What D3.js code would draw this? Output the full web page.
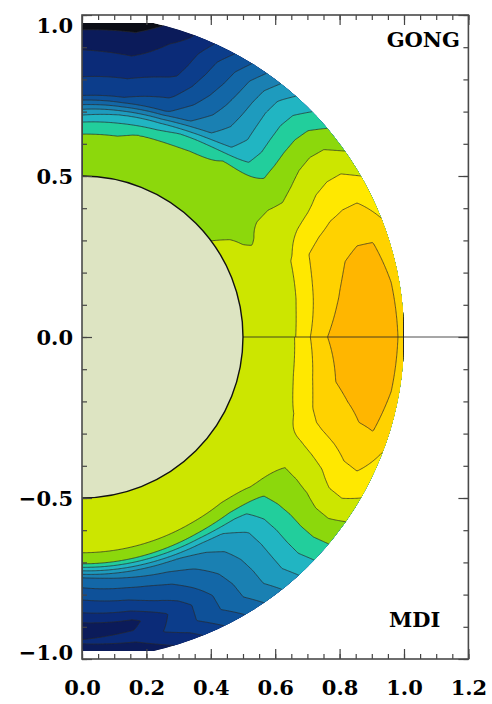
<!DOCTYPE html>
<html>
<head>
<meta charset="utf-8">
<title>Rotation rate GONG / MDI</title>
<script src="https://d3js.org/d3.v7.min.js"></script>
<style>
  body { margin: 0; background: #fff; }
  .tick text, .tag { font-family: "DejaVu Serif", serif; font-weight: bold; font-size: 21px; fill: #000; }
  .tick line { stroke: #444; stroke-width: 1.2; }
</style>
</head>
<body>
<div id="chart"></div>
<script>
// grid of the inversion: rows = latitude, columns = radius
var radii = [0.50, 0.55, 0.60, 0.65, 0.70, 0.75, 0.80, 0.85, 0.90, 0.95, 1.00];
var latitudes = [0, 10, 20, 30, 40, 50, 60, 70, 80, 90];

// northern half (GONG), rotation rate in nHz
var gongRate = [
  [432, 434, 436, 437, 448, 459, 463, 465, 466, 465, 457],
  [432, 434, 436, 437, 443, 455, 459, 463, 465, 464, 456],
  [432, 434, 435, 436, 441, 450, 455, 458, 459, 459, 452],
  [432, 431, 429, 432, 433, 435, 438, 442, 444, 444, 440],
  [429, 428, 427, 426, 426, 422, 424, 426, 427, 426, 421],
  [426, 425, 424, 423, 421, 403, 400, 401, 402, 401, 396],
  [425, 424, 423, 423, 414, 386, 379, 375, 372, 370, 364],
  [425, 424, 423, 421, 405, 368, 358, 351, 347, 344, 339],
  [425, 424, 422, 419, 400, 361, 352, 345, 338, 332, 322],
  [426, 425, 423, 418, 395, 360, 351, 345, 339, 331, 318]
];

// southern half (MDI), rotation rate in nHz
var mdiRate = [
  [436, 436, 437, 438, 448, 459, 463, 465, 466, 465, 457],
  [436, 436, 437, 438, 444, 455, 460, 463, 465, 464, 456],
  [436, 436, 436, 437, 440, 448, 452, 455, 458, 459, 451],
  [436, 435, 435, 436, 436, 433, 435, 438, 443, 444, 440],
  [436, 435, 435, 435, 431, 422, 421, 421, 422, 422, 420],
  [436, 435, 434, 434, 425, 405, 399, 398, 398, 398, 394],
  [435, 434, 434, 434, 424, 394, 385, 380, 377, 376, 369],
  [435, 434, 434, 434, 424, 388, 373, 364, 355, 356, 345],
  [435, 434, 433, 434, 424, 383, 367, 355, 337, 343, 330],
  [435, 434, 433, 434, 424, 378, 364, 352, 336, 341, 322]
];

var levels = [330, 340, 350, 360, 370, 380, 390, 400, 410, 420, 430, 440, 450, 460];
var bandColors = ["#0b0d16", "#0b1b5a", "#0b2b78", "#0c3d8b", "#0e5199", "#1367a7",
  "#1a80b2", "#1e9bbe", "#21b5c2", "#22ce9c", "#8cd80c", "#cce600", "#ffe800", "#ffd200", "#ffb600"];

var xMajor = [0.0, 0.2, 0.4, 0.6, 0.8, 1.0, 1.2];
var yMajor = [-1.0, -0.5, 0.0, 0.5, 1.0];
var xMinor = d3.range(0, 1.2001, 0.05);
var yMinor = d3.range(-1, 1.0001, 0.1);

var width = 492, height = 704;
var x = d3.scaleLinear().domain([0, 1.2]).range([82, 468.4]);
var y = d3.scaleLinear().domain([-1, 1]).range([659, 15]);

var svg = d3.select("#chart").append("svg")
  .attr("width", width)
  .attr("height", height);

// half disk, cut flat near the poles
var yc = 0.975, xc = Math.sqrt(1 - yc * yc), R = x(1) - x(0);
var disk = "M" + x(0) + "," + y(yc) + "L" + x(xc) + "," + y(yc) +
  "A" + R + "," + R + " 0 0 1 " + x(xc) + "," + y(-yc) +
  "L" + x(0) + "," + y(-yc) + "Z";

var defs = svg.append("defs");
defs.append("clipPath").attr("id", "disk").append("path").attr("d", disk);
defs.append("clipPath").attr("id", "plot").append("rect")
  .attr("x", x(0)).attr("y", y(1))
  .attr("width", x(1.2) - x(0)).attr("height", y(-1) - y(1));
defs.append("clipPath").attr("id", "north").append("rect")
  .attr("x", x(0)).attr("y", y(1))
  .attr("width", x(1.2) - x(0)).attr("height", y(0) - y(1));
defs.append("clipPath").attr("id", "south").append("rect")
  .attr("x", x(0)).attr("y", y(0))
  .attr("width", x(1.2) - x(0)).attr("height", y(-1) - y(0));

function rate(table, r, lat) {
  var dr = radii[1] - radii[0], dl = latitudes[1] - latitudes[0];
  var fr = (Math.max(radii[0], Math.min(1, r)) - radii[0]) / dr;
  var fl = lat / dl;
  var i0 = Math.min(Math.floor(fr), radii.length - 2), ti = fr - i0;
  var j0 = Math.min(Math.floor(fl), latitudes.length - 2), tj = fl - j0;
  var a = table[j0][i0], b = table[j0][i0 + 1];
  var c = table[j0 + 1][i0], d = table[j0 + 1][i0 + 1];
  return (a * (1 - ti) + b * ti) * (1 - tj) + (c * (1 - ti) + d * ti) * tj;
}

// each half is sampled a few cells past the equator so its edge hides under the clip
var n = 250, m = 4, h = 1 / n;

function gridY(sign, c) { return (sign > 0 ? 1 : m * h) - c * h; }

function field(table, sign) {
  var v = new Array(n * (n + m));
  for (var j = 0; j < n + m; j++) {
    for (var i = 0; i < n; i++) {
      var px = (i + 0.5) * h, py = gridY(sign, j + 0.5);
      var r = Math.sqrt(px * px + py * py);
      var lat = Math.atan2(Math.abs(py), px) * 180 / Math.PI;
      v[j * n + i] = rate(table, r, lat);
    }
  }
  return v;
}

var layer = svg.append("g").attr("clip-path", "url(#disk)");
layer.append("path").attr("d", disk).attr("fill", bandColors[0]);

var halves = [{table: gongRate, sign: 1, clip: "north"}, {table: mdiRate, sign: -1, clip: "south"}];
halves.forEach(function(hm) {
  var bands = d3.contours().size([n, n + m]).thresholds(levels)(field(hm.table, hm.sign));
  var path = d3.geoPath(d3.geoTransform({
    point: function(cx, cy) { this.stream.point(x(cx * h), y(gridY(hm.sign, cy))); }
  }));
  var g = layer.append("g").attr("clip-path", "url(#" + hm.clip + ")");
  g.selectAll("path.fill")
    .data(bands)
    .enter().append("path")
    .attr("class", "fill")
    .attr("d", path)
    .attr("fill", function(d) { return bandColors[levels.indexOf(d.value) + 1]; });
  g.selectAll("path.line")
    .data(bands)
    .enter().append("path")
    .attr("class", "line")
    .attr("d", path)
    .attr("fill", "none")
    .attr("stroke", "#2a2a2a")
    .attr("stroke-width", 0.7);
});

var inner = svg.append("g").attr("clip-path", "url(#plot)");
inner.append("line")
  .attr("x1", x(0)).attr("x2", x(1.2))
  .attr("y1", y(0)).attr("y2", y(0))
  .attr("stroke", "#222").attr("stroke-width", 0.8);
inner.append("circle")
  .attr("cx", x(0)).attr("cy", y(0)).attr("r", x(0.5) - x(0))
  .attr("fill", "#dde4c2")
  .attr("stroke", "#111").attr("stroke-width", 1.4);

// frame and ticks
var fmt = d3.format(".1f");
function clean(g) { g.select(".domain").remove(); }

svg.append("g").attr("transform", "translate(0," + y(-1) + ")")
  .call(d3.axisBottom(x).tickValues(xMinor).tickSize(-5).tickSizeOuter(0).tickFormat(""))
  .call(clean);
svg.append("g").attr("transform", "translate(0," + y(-1) + ")")
  .call(d3.axisBottom(x).tickValues(xMajor).tickSize(-10).tickSizeOuter(0).tickPadding(21).tickFormat(fmt))
  .call(clean);
svg.append("g").attr("transform", "translate(0," + y(1) + ")")
  .call(d3.axisTop(x).tickValues(xMinor).tickSize(-5).tickSizeOuter(0).tickFormat(""))
  .call(clean);
svg.append("g").attr("transform", "translate(0," + y(1) + ")")
  .call(d3.axisTop(x).tickValues(xMajor).tickSize(-10).tickSizeOuter(0).tickFormat(""))
  .call(clean);

svg.append("g").attr("transform", "translate(" + x(0) + ",0)")
  .call(d3.axisLeft(y).tickValues(yMinor).tickSize(-5).tickSizeOuter(0).tickFormat(""))
  .call(clean);
var left = svg.append("g").attr("transform", "translate(" + x(0) + ",0)")
  .call(d3.axisLeft(y).tickValues(yMajor).tickSize(-10).tickSizeOuter(0).tickPadding(9).tickFormat(fmt))
  .call(clean);
left.selectAll(".tick text")
  .attr("dy", "0.36em")
  .attr("y", function(d) { return d === 1 ? 10 : d === -1 ? -7 : 0; });
svg.append("g").attr("transform", "translate(" + x(1.2) + ",0)")
  .call(d3.axisRight(y).tickValues(yMinor).tickSize(-5).tickSizeOuter(0).tickFormat(""))
  .call(clean);
svg.append("g").attr("transform", "translate(" + x(1.2) + ",0)")
  .call(d3.axisRight(y).tickValues(yMajor).tickSize(-10).tickSizeOuter(0).tickFormat(""))
  .call(clean);

svg.append("rect")
  .attr("x", x(0)).attr("y", y(1))
  .attr("width", x(1.2) - x(0)).attr("height", y(-1) - y(1))
  .attr("fill", "none").attr("stroke", "#4a4a4a").attr("stroke-width", 1.6);

svg.append("text").attr("class", "tag")
  .attr("x", 460).attr("y", 47).attr("text-anchor", "end")
  .text("GONG");
svg.append("text").attr("class", "tag")
  .attr("x", 389).attr("y", 627)
  .text("MDI");
</script>
</body>
</html>
